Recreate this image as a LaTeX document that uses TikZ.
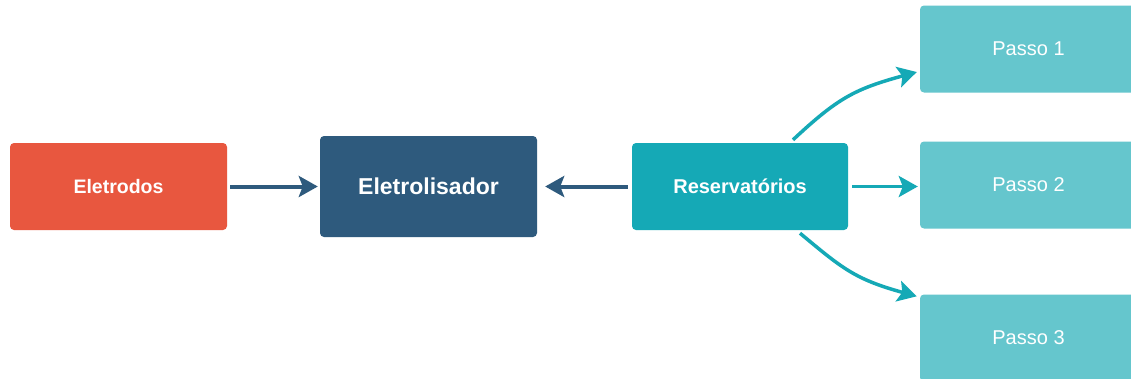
\documentclass[tikz,border=0pt]{standalone}
\usepackage{fontspec}
\setmainfont{Liberation Sans}
\usetikzlibrary{arrows.meta}
\definecolor{cred}{HTML}{E8573F}
\definecolor{cdark}{HTML}{2E5A7D}
\definecolor{cteal}{HTML}{15A9B6}
\definecolor{clight}{HTML}{65C6CD}
\begin{document}
\begin{tikzpicture}[x=1pt,y=-1pt,
  box/.style={rectangle,rounded corners=4pt,inner sep=0pt,text=white,minimum width=217pt,minimum height=87pt},
  darrow/.style={draw=cdark,line width=4pt,-{Stealth[length=19pt,width=21pt,inset=4pt]}},
  tarrow/.style={draw=cteal,line width=3.5pt,-{Stealth[length=19pt,width=21pt,inset=4pt]}}]
\useasboundingbox[fill=white] (0,0) rectangle (1131,378);
\node[box,fill=cred,font=\bfseries\fontsize{19.5}{21}\selectfont] (el) at (118.5,186.5) {Eletrodos};
\node[box,fill=cdark,minimum height=101pt,font=\bfseries\fontsize{23}{25}\selectfont] (ez) at (428.5,186.5) {Eletrolisador};
\node[box,fill=cteal,minimum width=216pt,font=\bfseries\fontsize{20}{22}\selectfont] (res) at (740,186.5) {Reservatórios};
\node[box,fill=clight,font=\fontsize{20}{22}\selectfont] (p1) at (1028.5,49) {Passo 1};
\node[box,fill=clight,font=\fontsize{20}{22}\selectfont] (p2) at (1028.5,185) {Passo 2};
\node[box,fill=clight,font=\fontsize{20}{22}\selectfont] (p3) at (1028.5,338) {Passo 3};
\draw[darrow] ([xshift=3pt]el.east) -- ([xshift=-2pt]ez.west);
\draw[darrow] ([xshift=-4pt]res.west) -- ([xshift=8pt]ez.east);
\draw[tarrow] ([xshift=4pt]res.east) -- ([xshift=-2pt]p2.west |- res.east);
\coordinate (s1) at ([xshift=53pt,yshift=3pt]res.north);
\coordinate (t1) at ([xshift=-3pt,yshift=-23pt]p1.west);
\draw[tarrow] (s1) .. controls ++(45,-42) and ++(-62,17) .. (t1);
\coordinate (s3) at ([xshift=60pt,yshift=-3pt]res.south);
\coordinate (t3) at ([xshift=-3pt,yshift=-2pt]p3.north west);
\draw[tarrow] (s3) .. controls ++(42,35) and ++(-62,-17) .. (t3);
\end{tikzpicture}
\end{document}
